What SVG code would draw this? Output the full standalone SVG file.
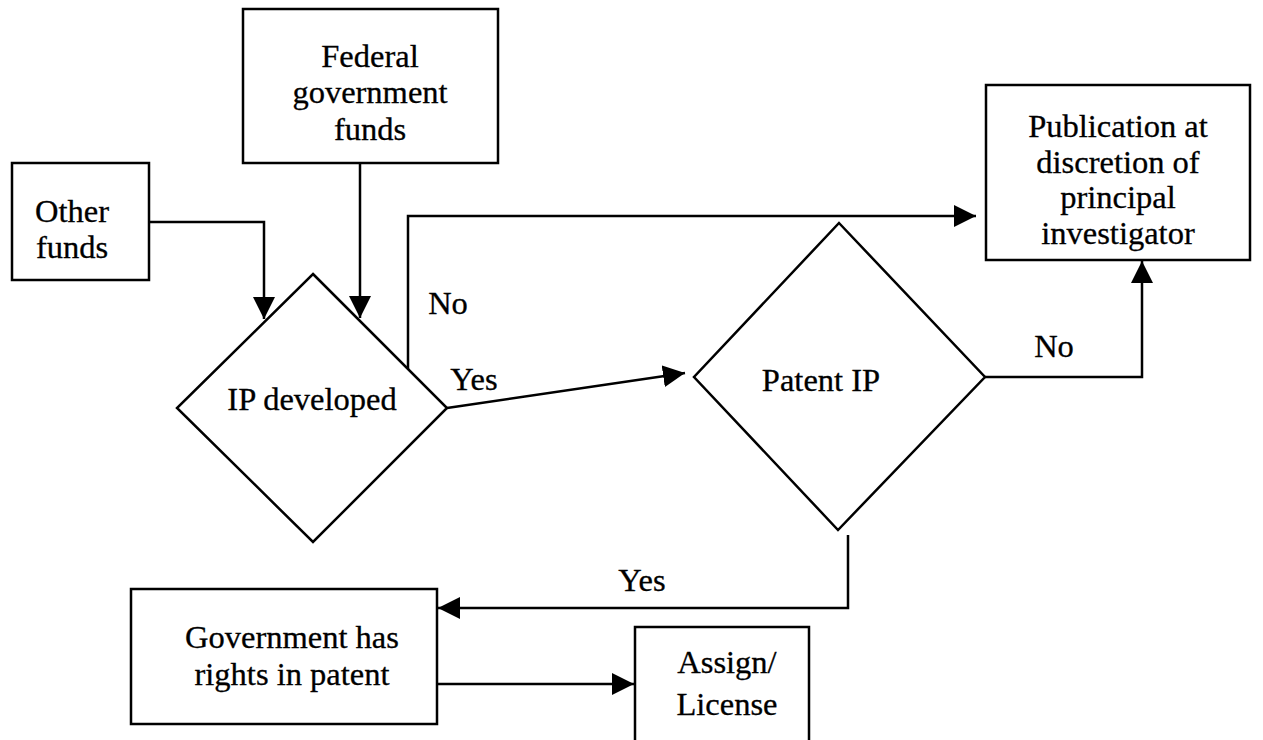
<svg xmlns="http://www.w3.org/2000/svg" width="1263" height="740" viewBox="0 0 1263 740">
  <style>
    .box { fill: #ffffff; stroke: #000000; stroke-width: 2.5; }
    .wire { fill: none; stroke: #000000; stroke-width: 2.5; }
    text { font-family: "Liberation Serif", "Times New Roman", serif; font-size: 32.5px; fill: #000000; stroke: #000000; stroke-width: 0.3; }
    .c { text-anchor: middle; }
  </style>
  <defs>
    <marker id="head" viewBox="0 0 22 22" refX="22" refY="11" markerWidth="22" markerHeight="22" markerUnits="userSpaceOnUse" orient="auto">
      <path d="M0,0 L22,11 L0,22 Z" fill="#000000"/>
    </marker>
  </defs>
  <rect width="1263" height="740" fill="#ffffff"/>

  <g id="connectors">
    <path class="wire" d="M149,222 H264 V319" marker-end="url(#head)"/>
    <path class="wire" d="M360,163 V318" marker-end="url(#head)"/>
    <path class="wire" d="M408,369 V216 H976" marker-end="url(#head)"/>
    <path class="wire" d="M447,408 L685,373" marker-end="url(#head)"/>
    <path class="wire" d="M985,377 H1142 V261" marker-end="url(#head)"/>
    <path class="wire" d="M848,535 V608 H438" marker-end="url(#head)"/>
    <path class="wire" d="M437,684 H634" marker-end="url(#head)"/>
    <text x="448" y="314" class="c">No</text>
    <text x="474" y="390" class="c">Yes</text>
    <text x="1054" y="357" class="c">No</text>
    <text x="642" y="591" class="c">Yes</text>
  </g>

  <g id="other-funds">
    <rect class="box" x="12" y="163" width="137" height="117"/>
    <text x="72" y="222" class="c">Other</text>
    <text x="72" y="258" class="c">funds</text>
  </g>

  <g id="federal-funds">
    <rect class="box" x="243" y="9" width="255" height="154"/>
    <text x="370" y="67" class="c">Federal</text>
    <text x="370" y="103" class="c">government</text>
    <text x="370" y="140" class="c">funds</text>
  </g>

  <g id="ip-developed">
    <polygon class="box" points="313,274 447,408 313,542 177,408"/>
    <text x="312" y="410" class="c">IP developed</text>
  </g>

  <g id="patent-ip">
    <polygon class="box" points="839,223 985,377 838,530 694,377"/>
    <text x="821" y="391" class="c">Patent IP</text>
  </g>

  <g id="publication">
    <rect class="box" x="986" y="85" width="264" height="175"/>
    <text x="1118" y="137" class="c">Publication at</text>
    <text x="1118" y="173" class="c">discretion of</text>
    <text x="1118" y="208" class="c">principal</text>
    <text x="1118" y="244" class="c">investigator</text>
  </g>

  <g id="government-rights">
    <rect class="box" x="131" y="589" width="306" height="135"/>
    <text x="292" y="648" class="c">Government has</text>
    <text x="292" y="685" class="c">rights in patent</text>
  </g>

  <g id="assign-license">
    <rect class="box" x="635" y="627" width="174" height="130"/>
    <text x="727" y="673" class="c">Assign/</text>
    <text x="727" y="715" class="c">License</text>
  </g>
</svg>
